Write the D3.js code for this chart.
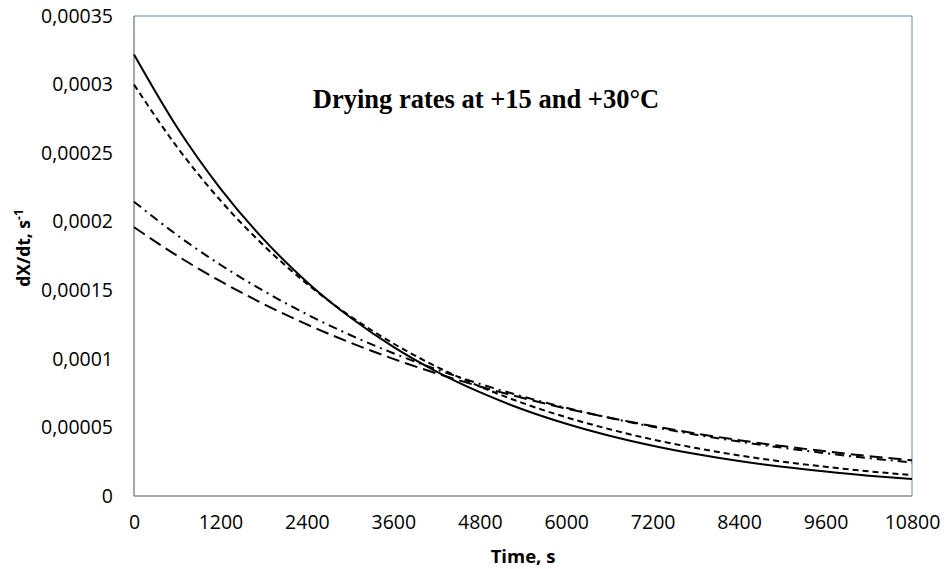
<!DOCTYPE html>
<html>
<head>
<meta charset="utf-8">
<script src="https://cdn.jsdelivr.net/npm/d3@7"></script>
<style>
  body { margin: 0; background: #fff; }
  svg { display: block; }
  .tick text { font-family: "Open Sans", sans-serif; font-size: 19.5px; fill: #000; }
</style>
</head>
<body>
<svg id="chart" width="946" height="569"></svg>
<script>
/* ---------- data ---------- */
const timeS = [0, 600, 1200, 1800, 2400, 3000, 3600, 4200, 4800, 5400, 6000,
               6600, 7200, 7800, 8400, 9000, 9600, 10200, 10800];

// drying rate, units of 1e-6 s^-1
const rateSolid   = [322.0, 268.7, 224.2, 187.1, 156.1, 130.3, 108.7, 90.7, 75.7, 63.1, 52.7,
                     44.0, 36.7, 30.6, 25.5, 21.3, 17.8, 14.8, 12.4];
const rateShort   = [300.0, 254.3, 215.5, 182.7, 154.8, 131.2, 111.2, 94.3, 79.9, 67.7, 57.4,
                     48.7, 41.2, 35.0, 29.6, 25.1, 21.3, 18.0, 15.3];
const rateDashDot = [214.6, 190.2, 168.6, 149.5, 132.5, 117.4, 104.1, 92.3, 81.8, 72.5, 64.3,
                     57.0, 50.5, 44.7, 39.7, 35.2, 31.2, 27.6, 24.5];
const rateLong    = [196.0, 175.2, 156.6, 140.0, 125.1, 111.9, 100.0, 89.4, 79.9, 71.4, 63.8,
                     57.1, 51.0, 45.6, 40.7, 36.4, 32.6, 29.1, 26.0];

const xTicks = [0, 1200, 2400, 3600, 4800, 6000, 7200, 8400, 9600, 10800];
const yTicks = [0, 0.00005, 0.0001, 0.00015, 0.0002, 0.00025, 0.0003, 0.00035];
const yTickLabels = ['0', '0,00005', '0,0001', '0,00015', '0,0002', '0,00025', '0,0003', '0,00035'];

const series = [
  { name: 'solid',    values: rateSolid,   dash: null },
  { name: 'short',    values: rateShort,   dash: '6,4' },
  { name: 'dashdot',  values: rateDashDot, dash: '9,5,2,5' },
  { name: 'long',     values: rateLong,    dash: '13,6' },
];

/* ---------- layout ---------- */
const svg = d3.select('#chart');
const plot = { left: 134, top: 16, right: 912, bottom: 496 };

const x = d3.scaleLinear().domain([0, 10800]).range([plot.left, plot.right]);
const y = d3.scaleLinear().domain([0, 0.00035]).range([plot.bottom, plot.top]);

/* ---------- axes ---------- */
svg.append('g')
  .attr('transform', `translate(0,${plot.bottom})`)
  .call(d3.axisBottom(x).tickValues(xTicks).tickSize(0).tickPadding(19).tickFormat(d3.format('d')))
  .call(g => g.select('.domain').remove());

svg.append('g')
  .attr('transform', `translate(${plot.left},0)`)
  .call(d3.axisLeft(y).tickValues(yTicks).tickSize(0).tickPadding(21)
    .tickFormat((d, i) => yTickLabels[i]))
  .call(g => g.select('.domain').remove());

// frame: grey axes left/bottom, blue border top/right
svg.append('line').attr('x1', plot.left).attr('x2', plot.right).attr('y1', plot.top).attr('y2', plot.top)
  .attr('stroke', '#5b86c0').attr('stroke-width', 1);
svg.append('line').attr('x1', plot.right).attr('x2', plot.right).attr('y1', plot.top).attr('y2', plot.bottom)
  .attr('stroke', '#5b86c0').attr('stroke-width', 1);
svg.append('line').attr('x1', plot.left).attr('x2', plot.right).attr('y1', plot.bottom).attr('y2', plot.bottom)
  .attr('stroke', '#868a90').attr('stroke-width', 1.5);
svg.append('line').attr('x1', plot.left).attr('x2', plot.left).attr('y1', plot.top).attr('y2', plot.bottom)
  .attr('stroke', '#868a90').attr('stroke-width', 1.5);

/* ---------- curves ---------- */
const line = d3.line()
  .x((d, i) => x(timeS[i]))
  .y(d => y(d * 1e-6))
  .curve(d3.curveMonotoneX);

svg.append('g').selectAll('path')
  .data(series)
  .join('path')
  .attr('d', s => line(s.values))
  .attr('fill', 'none')
  .attr('stroke', '#000')
  .attr('stroke-width', 2)
  .attr('stroke-dasharray', s => s.dash);

/* ---------- texts ---------- */
svg.append('text')
  .attr('x', 486).attr('y', 108)
  .attr('text-anchor', 'middle')
  .attr('font-family', '"Liberation Serif", "Times New Roman", serif')
  .attr('font-weight', 'bold')
  .attr('font-size', 26.5)
  .text('Drying rates at +15 and +30°C');

svg.append('text')
  .attr('x', 523).attr('y', 563)
  .attr('text-anchor', 'middle')
  .attr('font-family', '"Open Sans", sans-serif')
  .attr('font-weight', 'bold')
  .attr('font-size', 18.5)
  .text('Time, s');

const yl = svg.append('text')
  .attr('transform', 'translate(30,248) rotate(-90)')
  .attr('text-anchor', 'middle')
  .attr('font-family', '"Open Sans", sans-serif')
  .attr('font-weight', 'bold')
  .attr('font-size', 17.5);
yl.append('tspan').text('dX/dt, s');
yl.append('tspan').attr('dy', -7).attr('font-size', 12).text('-1');
</script>
</body>
</html>
